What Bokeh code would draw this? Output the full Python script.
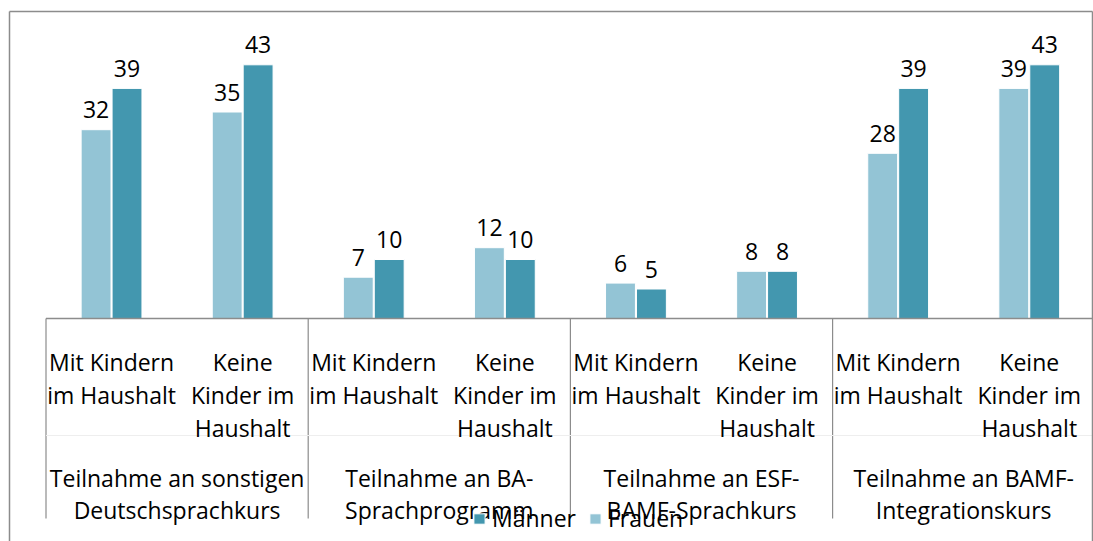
from bokeh.plotting import figure
from bokeh.models import ColumnDataSource, Range1d, Legend, LegendItem
from bokeh.core.properties import value
from bokeh.embed import file_html
from bokeh.resources import INLINE

# ---- data ----
groups = ["Teilnahme an sonstigen\nDeutschsprachkurs",
          "Teilnahme an BA-\nSprachprogramm",
          "Teilnahme an ESF-\nBAMF-Sprachkurs",
          "Teilnahme an BAMF-\nIntegrationskurs"]
subcats = ["Mit Kindern\nim Haushalt", "Keine\nKinder im\nHaushalt"]
frauen = [32, 35, 7, 12, 6, 8, 28, 39]
maenner = [39, 43, 10, 10, 5, 8, 39, 43]

# ---- geometry (picture pixels) ----
W, H = 1093, 541
ORG = 0                   # canvas origin in the picture
X0, PXX = 45.5, 131.1     # x=0 position, px per category
Y0, PXY = 318.0, 5.9      # baseline position, px per unit


def dx(px):
    return (px - X0) / PXX


def dy(py):
    return (Y0 - py) / PXY


FONT = value("Open Sans")
FS = "23px"
C_F = "#93C4D5"
C_M = "#4397AF"
GRAY = "#8c8c8c"

p = figure(width=W, height=H, output_backend="svg", toolbar_location=None,
           x_axis_type=None, y_axis_type=None,
           x_range=Range1d(dx(ORG), dx(ORG + W)), y_range=Range1d(dy(ORG + H), dy(ORG)),
           min_border=0)
p.grid.visible = False
p.outline_line_color = None
p.background_fill_color = "white"
p.border_fill_color = "white"

n = len(frauen)
xc = [i + 0.5 for i in range(n)]
off = 0.118
bw = 0.228
src = ColumnDataSource(dict(
    xf=[x - off for x in xc], xm=[x + off for x in xc],
    f=frauen, m=maenner,
    ft=[str(v) for v in frauen], mt=[str(v) for v in maenner],
    fy=[v + 20 / PXY for v in frauen], my=[v + 20 / PXY for v in maenner],
))

rf = p.vbar(x="xf", top="f", bottom=0, width=bw, source=src,
            fill_color=C_F, line_color="white", line_width=1)
rm = p.vbar(x="xm", top="m", bottom=0, width=bw, source=src,
            fill_color=C_M, line_color="white", line_width=1)

for xs, ys, ts in (("xf", "fy", "ft"), ("xm", "my", "mt")):
    p.text(x=xs, y=ys, text=ts, source=src, text_font=FONT, text_font_size=FS,
           text_align="center", text_baseline="alphabetic", text_color="black")

# baseline axis line
p.line(x=[0, n], y=[0, 0], line_color=GRAY, line_width=1.5)

# group separators and faint level separator
ng = len(groups)
per = n // ng
sep_x = [g * per for g in range(ng)]
p.segment(x0=sep_x, y0=[0] * ng, x1=sep_x, y1=[dy(518)] * ng,
          line_color=GRAY, line_width=1.2)
p.line(x=[0, n], y=[dy(435)] * 2, line_color="#eeeeee", line_width=1)

# category labels
lx, ly, lt = [], [], []
for i in range(n):
    for k, line in enumerate(subcats[i % per].split("\n")):
        lx.append(i + 0.5)
        ly.append(dy(361 + 33 * k))
        lt.append(line)
for g in range(ng):
    for k, line in enumerate(groups[g].split("\n")):
        lx.append(g * per + per / 2)
        ly.append(dy(477 + 32.5 * k))
        lt.append(line)
p.text(x=lx, y=ly, text=lt, text_font=FONT, text_font_size=FS,
       text_align="center", text_baseline="alphabetic", text_color="black")

# outer chart border (top, left, right)
bl, bt, br = dx(9), dy(11), dx(1092)
bb = dy(ORG + H + 5)
p.segment(x0=[bl, bl, br], y0=[bt, bt, bt], x1=[br, bl, br], y1=[bt, bb, bb],
          line_color=GRAY, line_width=1.5)

legend = Legend(items=[LegendItem(label="Männer", renderers=[rm]),
                       LegendItem(label="Frauen", renderers=[rf])],
                orientation="horizontal", location=(472, 7),
                label_text_font="Open Sans", label_text_font_size=FS,
                label_text_color="black",
                glyph_width=14, glyph_height=13, label_standoff=6, spacing=12,
                padding=0, margin=0, border_line_color=None,
                background_fill_alpha=0)
p.add_layout(legend)

open("out.html", "w").write(file_html(p, INLINE))
